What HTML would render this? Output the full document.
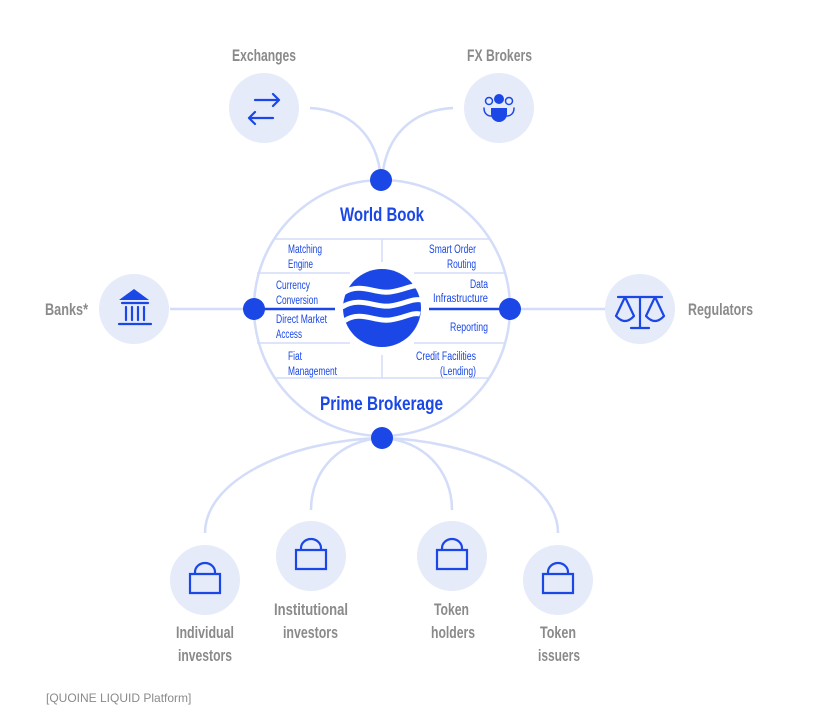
<!DOCTYPE html>
<html><head><meta charset="utf-8"><style>
html,body{margin:0;padding:0;background:#fff;}
svg{display:block;}
.g{font-family:"Liberation Sans",sans-serif;font-weight:bold;fill:#8a8a8a;font-size:17px;}
.b{font-family:"Liberation Sans",sans-serif;fill:#1a47e5;font-size:11.5px;}
.t{font-family:"Liberation Sans",sans-serif;font-weight:bold;fill:#1a47e5;font-size:19px;}
</style></head><body>
<svg width="813" height="720" viewBox="0 0 813 720" xmlns="http://www.w3.org/2000/svg">
<g fill="none" stroke="#d3dcf8" stroke-width="2.5">
<circle cx="382" cy="308" r="128"/>
<path d="M310 108 C350 110 378 135 381 180"/>
<path d="M453 108 C413 110 385 135 382 180"/>
<path d="M170 309 H254"/><path d="M510 309 H605"/>
<path d="M205 533 C205 480 290 440 382 438"/>
<path d="M311 510 C311 470 340 440 382 438"/>
<path d="M452 510 C452 470 423 440 382 438"/>
<path d="M558 533 C558 480 473 440 382 438"/>
</g>
<g stroke="#d3dcf8" stroke-width="1.5">
<path d="M275 239 H490"/><path d="M257 273 H350 M414 273 H506"/>
<path d="M257 343 H350 M414 343 H506"/><path d="M275 378 H490"/>
<path d="M382 239 V262 M382 355 V378"/>
</g>
<g stroke="#1a47e5" stroke-width="2.5"><path d="M254 309 H335 M429 309 H510"/></g>
<g fill="#1a47e5">
<circle cx="381" cy="180" r="11"/><circle cx="382" cy="438" r="11"/>
<circle cx="254" cy="309" r="11"/><circle cx="510" cy="309" r="11"/>
<circle cx="382" cy="308" r="39"/>
</g>
<g fill="none" stroke="#fff" stroke-width="5">
<path d="M343 293 C360 282 375 294 390 292 C405 290 412 284 422 286"/>
<path d="M342 307 C360 296 375 308 390 306 C405 304 412 298 422 300"/>
<path d="M344 321 C360 310 375 322 390 320 C405 318 412 312 420 314"/>
</g>
<g fill="#e6ebfa">
<circle cx="264" cy="108" r="35"/><circle cx="499" cy="108" r="35"/>
<circle cx="134" cy="309" r="35"/><circle cx="640" cy="309" r="35"/>
<circle cx="205" cy="580" r="35"/><circle cx="311" cy="556" r="35"/>
<circle cx="452" cy="556" r="35"/><circle cx="558" cy="580" r="35"/>
</g>
<g fill="none" stroke="#1a47e5" stroke-width="2.2" stroke-linecap="round" stroke-linejoin="round">
<path d="M255 100 H279 M273 94 L279 100 L273 106"/><path d="M273 118 H249 M255 112 L249 118 L255 124"/>
<circle cx="489" cy="101" r="3.5" stroke-width="1.5"/><circle cx="509" cy="101" r="3.5" stroke-width="1.5"/>
<path d="M484 108 C484 114 488 116 491 116 M514 108 C514 114 510 116 507 116" stroke-width="1.5"/>
<path d="M122 303 H148 M126 307 V320 M132 307 V320 M138 307 V320 M144 307 V320 M119 324 H151"/>
<path d="M618 297 H662 M640 297 V328 M631 328 H649 M625 297 L616 316 Q625 326 634 316 Z M655 297 L646 316 Q655 326 664 316 Z"/>
</g>
<g fill="#1a47e5">
<circle cx="499" cy="99" r="5"/><path d="M491 108 H507 V114 A8 8 0 0 1 491 114 Z"/>
<path d="M134 289 L149 300 H119 Z"/>
</g>
<g fill="none" stroke="#1a47e5" stroke-width="2.2">
<path d="M190 574 H220 V593 H190 Z M195 574 V572 A10 9 0 0 1 215 572 V574"/>
<path d="M296 550 H326 V569 H296 Z M301 550 V548 A10 9 0 0 1 321 548 V550"/>
<path d="M437 550 H467 V569 H437 Z M442 550 V548 A10 9 0 0 1 462 548 V550"/>
<path d="M543 574 H573 V593 H543 Z M548 574 V572 A10 9 0 0 1 568 572 V574"/>
</g>
<g>
<text class="g" x="232" y="61" textLength="64" lengthAdjust="spacingAndGlyphs">Exchanges</text>
<text class="g" x="467" y="61" textLength="65" lengthAdjust="spacingAndGlyphs">FX Brokers</text>
<text class="g" x="45" y="315" textLength="43" lengthAdjust="spacingAndGlyphs">Banks*</text>
<text class="g" x="688" y="315" textLength="65" lengthAdjust="spacingAndGlyphs">Regulators</text>
<text class="g" x="176" y="638" textLength="58" lengthAdjust="spacingAndGlyphs">Individual</text>
<text class="g" x="178" y="661" textLength="54" lengthAdjust="spacingAndGlyphs">investors</text>
<text class="g" x="274" y="615" textLength="74" lengthAdjust="spacingAndGlyphs">Institutional</text>
<text class="g" x="283" y="638" textLength="55" lengthAdjust="spacingAndGlyphs">investors</text>
<text class="g" x="434" y="615" textLength="35" lengthAdjust="spacingAndGlyphs">Token</text>
<text class="g" x="431" y="638" textLength="44" lengthAdjust="spacingAndGlyphs">holders</text>
<text class="g" x="540" y="638" textLength="36" lengthAdjust="spacingAndGlyphs">Token</text>
<text class="g" x="538" y="661" textLength="42" lengthAdjust="spacingAndGlyphs">issuers</text>
<text class="t" x="340" y="221" textLength="84" lengthAdjust="spacingAndGlyphs">World Book</text>
<text class="t" x="320" y="410" textLength="123" lengthAdjust="spacingAndGlyphs">Prime Brokerage</text>
<text class="b" x="288" y="253" textLength="34" lengthAdjust="spacingAndGlyphs">Matching</text>
<text class="b" x="288" y="268" textLength="25" lengthAdjust="spacingAndGlyphs">Engine</text>
<text class="b" x="429" y="253" textLength="47" lengthAdjust="spacingAndGlyphs">Smart Order</text>
<text class="b" x="447" y="268" textLength="29" lengthAdjust="spacingAndGlyphs">Routing</text>
<text class="b" x="276" y="289" textLength="34" lengthAdjust="spacingAndGlyphs">Currency</text>
<text class="b" x="276" y="304" textLength="42" lengthAdjust="spacingAndGlyphs">Conversion</text>
<text class="b" x="276" y="323" textLength="51" lengthAdjust="spacingAndGlyphs">Direct Market</text>
<text class="b" x="276" y="338" textLength="26" lengthAdjust="spacingAndGlyphs">Access</text>
<text class="b" x="470" y="288" textLength="18" lengthAdjust="spacingAndGlyphs">Data</text>
<text class="b" x="433" y="302" textLength="55" lengthAdjust="spacingAndGlyphs">Infrastructure</text>
<text class="b" x="450" y="331" textLength="38" lengthAdjust="spacingAndGlyphs">Reporting</text>
<text class="b" x="288" y="360" textLength="14" lengthAdjust="spacingAndGlyphs">Fiat</text>
<text class="b" x="288" y="375" textLength="49" lengthAdjust="spacingAndGlyphs">Management</text>
<text class="b" x="416" y="360" textLength="60" lengthAdjust="spacingAndGlyphs">Credit Facilities</text>
<text class="b" x="440" y="375" textLength="36" lengthAdjust="spacingAndGlyphs">(Lending)</text>
</g>
<text x="46" y="702" font-family="Liberation Sans, sans-serif" font-size="12" fill="#8a8a8a">[QUOINE LIQUID Platform]</text>
</svg>
</body></html>
